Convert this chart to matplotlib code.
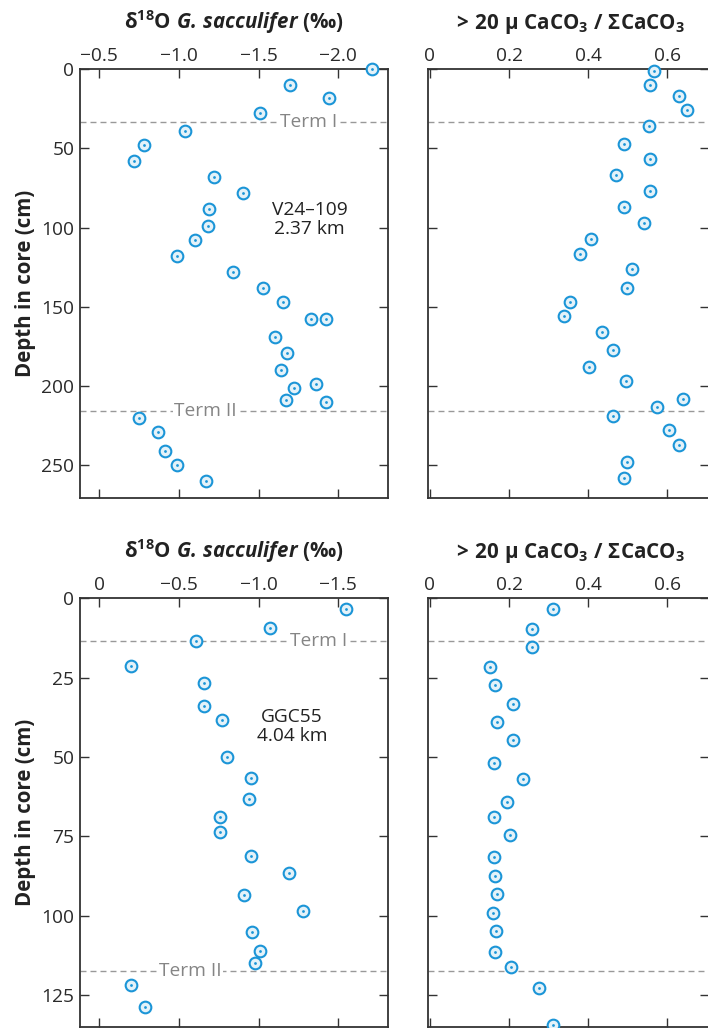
import matplotlib
matplotlib.use("Agg")
import matplotlib.pyplot as plt

plt.rcParams['font.family'] = ['Open Sans', 'DejaVu Sans']
plt.rcParams['mathtext.fontset'] = 'custom'
plt.rcParams['mathtext.rm'] = 'Open Sans'
plt.rcParams['mathtext.bf'] = 'Open Sans:bold'
plt.rcParams['mathtext.it'] = 'Open Sans:italic'
plt.rcParams['mathtext.bfit'] = 'Open Sans:bold:italic'

# ---------------- data: core V24-109 ----------------
v24_d18o_depth = [0, 10, 18, 28, 39, 48, 58, 68, 78, 88, 99, 108, 118, 128, 138, 147,
                  158, 158, 169, 179, 190, 199, 201, 209, 210, 220, 229, 241, 250, 260]
v24_d18o = [-2.21, -1.70, -1.94, -1.51, -1.04, -0.78, -0.72, -1.22, -1.40, -1.19, -1.18,
            -1.10, -0.99, -1.34, -1.53, -1.65, -1.83, -1.92, -1.60, -1.68, -1.64, -1.86,
            -1.72, -1.67, -1.92, -0.75, -0.87, -0.91, -0.99, -1.17]
v24_frac_depth = [1, 10, 17, 26, 36, 47, 57, 67, 77, 87, 97, 107, 117, 126, 138, 147,
                  156, 166, 177, 188, 197, 208, 213, 219, 228, 237, 248, 258]
v24_frac = [0.566, 0.557, 0.628, 0.649, 0.554, 0.490, 0.555, 0.470, 0.555, 0.490, 0.542,
            0.407, 0.378, 0.511, 0.498, 0.355, 0.340, 0.434, 0.463, 0.402, 0.495, 0.639,
            0.574, 0.463, 0.604, 0.628, 0.498, 0.490]
v24_term = [33.4, 216.0]

# ---------------- data: core GGC55 ----------------
ggc_d18o_depth = [3.5, 9.5, 13.6, 21.3, 26.8, 33.9, 38.4, 50.1, 56.5, 63.2, 69.0, 73.7,
                  81.0, 86.5, 93.4, 98.5, 105.2, 111.2, 114.9, 121.9, 128.8]
ggc_d18o = [-1.55, -1.07, -0.61, -0.20, -0.66, -0.66, -0.77, -0.80, -0.95, -0.94, -0.76,
            -0.76, -0.95, -1.19, -0.91, -1.28, -0.96, -1.01, -0.98, -0.20, -0.29]
ggc_frac_depth = [3.4, 9.7, 15.2, 21.7, 27.4, 33.3, 39.1, 44.7, 51.8, 57.0, 64.0, 69.0,
                  74.5, 81.4, 87.4, 93.1, 99.0, 104.8, 111.3, 116.1, 122.7, 134.3]
ggc_frac = [0.311, 0.259, 0.259, 0.152, 0.165, 0.211, 0.170, 0.211, 0.161, 0.235, 0.195,
            0.161, 0.203, 0.161, 0.164, 0.169, 0.160, 0.166, 0.164, 0.205, 0.276, 0.310]
ggc_term = [13.5, 117.5]

term_labels = ['Term I', 'Term II']
core_labels = ['V24\u2013109\n2.37 km', 'GGC55\n4.04 km']

top_d18o_ticks = [-0.5, -1.0, -1.5, -2.0]
top_d18o_ticklabels = ['\u22120.5', '\u22121.0', '\u22121.5', '\u22122.0']
bot_d18o_ticks = [0, -0.5, -1.0, -1.5]
bot_d18o_ticklabels = ['0', '\u22120.5', '\u22121.0', '\u22121.5']
frac_ticks = [0, 0.2, 0.4, 0.6]
frac_ticklabels = ['0', '0.2', '0.4', '0.6']
top_depth_ticks = [0, 50, 100, 150, 200, 250]
bot_depth_ticks = [0, 25, 50, 75, 100, 125]

# ---------------- style ----------------
W, H = 708, 1028
EDGE = '#1b95d7'
FILL = '#e4f2f9'
AXC = '#333333'
DASH = '#999999'
TERMC = '#858585'
TICK_FS = 13.8
TITLE_FS = 14.8

fig = plt.figure(figsize=(W / 100, H / 100), dpi=100)


def px_axes(l, t, r, b):
    return fig.add_axes([l / W, 1 - b / H, (r - l) / W, (b - t) / H])


ax_tl = px_axes(80, 69, 388, 498)
ax_tr = px_axes(428.3, 69, 709, 498)
ax_bl = px_axes(80, 598.3, 388, 1027)
ax_br = px_axes(428.3, 598.3, 709, 1027)

d18o_title = r'$\mathbf{\delta^{18}O}\ \mathbfit{G.\!\ sacculifer}\ \mathbf{(‰)}$'
frac_title = r'$\mathbf{>\!\ 20\ \mu\ CaCO_3\ /\ \Sigma CaCO_3}$'


def style(ax, xlim, ylim, xticks, xlabels, yticks, ylabels_on, title):
    ax.set_xlim(*xlim)
    ax.set_ylim(*ylim)
    ax.set_xticks(xticks, xlabels)
    ax.set_yticks(yticks)
    if not ylabels_on:
        ax.set_yticklabels([])
    ax.xaxis.set_ticks_position('both')
    ax.yaxis.set_ticks_position('both')
    ax.tick_params(axis='both', direction='in', length=6.5, width=1.0, color=AXC,
                   labelsize=TICK_FS, labelcolor='#2a2a2a')
    ax.tick_params(axis='x', labeltop=True, labelbottom=False, pad=3)
    ax.tick_params(axis='y', labelleft=ylabels_on, labelright=False, pad=4)
    for s in ax.spines.values():
        s.set_color(AXC)
        s.set_linewidth(1.3)
    ax.annotate(title, xy=(0.5, 1.0), xycoords='axes fraction', xytext=(0, 29),
                textcoords='offset points', ha='center', va='baseline',
                fontsize=TITLE_FS, color='#222222')


def points(ax, x, y):
    ax.plot(x, y, ls='none', marker='o', ms=8.4, mew=1.5, mec=EDGE, mfc=FILL,
            clip_on=False, zorder=5)
    ax.plot(x, y, ls='none', marker='o', ms=2.0, mew=0, mfc=EDGE, clip_on=False,
            zorder=6)


def terms(ax, depths, labels=None, xs=None):
    for i, d in enumerate(depths):
        ax.axhline(d, color=DASH, lw=1.0, dashes=(4.3, 2.9), zorder=2)
        if labels is not None:
            ax.text(xs[i], d, labels[i], ha='center', va='center', fontsize=TICK_FS,
                    color=TERMC, zorder=3,
                    bbox=dict(facecolor='white', edgecolor='none', pad=1.0))


# top-left
style(ax_tl, (-0.379, -2.312), (270.6, 0), top_d18o_ticks, top_d18o_ticklabels,
      top_depth_ticks, True, d18o_title)
terms(ax_tl, v24_term, term_labels, [-1.816, -1.167])
points(ax_tl, v24_d18o, v24_d18o_depth)
ax_tl.text(-1.82, 95, core_labels[0], ha='center', va='center', fontsize=TICK_FS,
           color='#222222', linespacing=1.05)

# top-right
style(ax_tr, (-0.004, 0.705), (270.6, 0), frac_ticks, frac_ticklabels,
      top_depth_ticks, False, frac_title)
terms(ax_tr, v24_term)
points(ax_tr, v24_frac, v24_frac_depth)

# bottom-left
style(ax_bl, (0.121, -1.812), (135, 0), bot_d18o_ticks, bot_d18o_ticklabels,
      bot_depth_ticks, True, d18o_title)
terms(ax_bl, ggc_term, term_labels, [-1.378, -0.573])
points(ax_bl, ggc_d18o, ggc_d18o_depth)
ax_bl.text(-1.21, 40.4, core_labels[1], ha='center', va='center', fontsize=TICK_FS,
           color='#222222', linespacing=1.05)

# bottom-right
style(ax_br, (-0.004, 0.705), (135, 0), frac_ticks, frac_ticklabels,
      bot_depth_ticks, False, frac_title)
terms(ax_br, ggc_term)
points(ax_br, ggc_frac, ggc_frac_depth)

for ax in (ax_tl, ax_bl):
    ax.set_ylabel('Depth in core (cm)', fontsize=TITLE_FS, fontweight='bold',
                  color='#222222', va='center')
    ax.yaxis.set_label_coords((25 - 80) / 308, 0.5)

fig.savefig('out.png', dpi=100)
